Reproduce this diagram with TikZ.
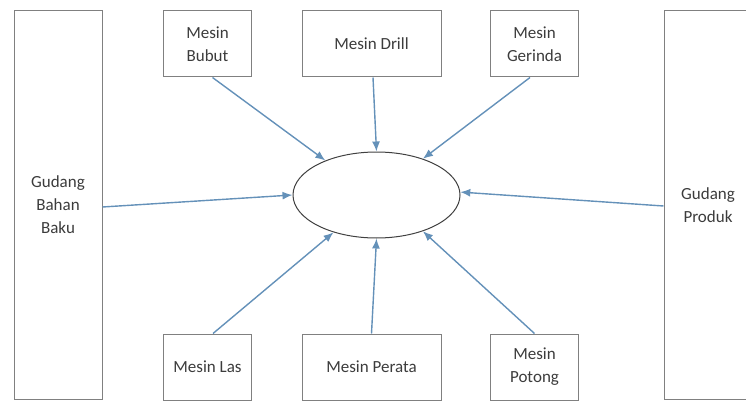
\documentclass[tikz,border=0pt]{standalone}
\usepackage{fontspec}
\setmainfont{Carlito}
\usetikzlibrary{arrows.meta,shapes.geometric}

\definecolor{boxgrey}{RGB}{128,128,128}
\definecolor{arrowblue}{RGB}{100,145,185}
\definecolor{textgrey}{RGB}{60,60,60}

\begin{document}
\begin{tikzpicture}[
  x=1pt, y=-1pt,
  box/.style={rectangle, draw=boxgrey, line width=1pt, fill=white, inner sep=0pt, align=center, text=textgrey, font=\fontsize{17}{23}\selectfont},
  gudang/.style={box, minimum width=88pt, minimum height=388pt},
  mesin/.style={box, minimum width=88pt, minimum height=66pt},
  proses/.style={ellipse, draw=black!75, line width=1pt, inner sep=0pt, minimum width=167pt, minimum height=86pt},
  flow/.style={draw=arrowblue, line width=1.4pt, -{Latex[length=10pt,width=8pt]}}
]
  \useasboundingbox (0,0) rectangle (746,401);
  \clip (0,0) rectangle (746,401);

  % Gudang
  \node[gudang] (gbb) at (58,205) {Gudang\\Bahan\\Baku};
  \node[gudang] (gp)  at (708,205) {Gudang\\Produk};

  % Mesin atas
  \node[mesin] (bubut)   at (207.5,44) {Mesin\\Bubut};
  \node[mesin, minimum width=139pt] (drill) at (371.5,44) {Mesin Drill};
  \node[mesin] (gerinda) at (534.5,44) {Mesin\\Gerinda};

  % Mesin bawah
  \node[mesin] (las)    at (207.5,367) {Mesin Las};
  \node[mesin, minimum width=139pt] (perata) at (371.5,367) {Mesin Perata};
  \node[mesin] (potong) at (534.5,367) {Mesin\\Potong};

  % Proses
  \node[proses] (pusat) at (376.5,195) {};

  % Aliran
  \draw[flow] ([xshift=5pt]bubut.south) -- (pusat.146);
  \draw[flow] ([xshift=1.5pt]drill.south) -- (pusat.90);
  \draw[flow] ([xshift=-4.5pt]gerinda.south) -- (pusat.38);
  \draw[flow] ([yshift=-2pt]gbb.east) -- (pusat.180);
  \draw[flow] ([yshift=-1pt]gp.west) -- (pusat.2);
  \draw[flow] ([xshift=5.5pt]las.north) -- (pusat.221);
  \draw[flow] (perata.north) -- (pusat.270);
  \draw[flow] (potong.north) -- (pusat.322);
\end{tikzpicture}
\end{document}
